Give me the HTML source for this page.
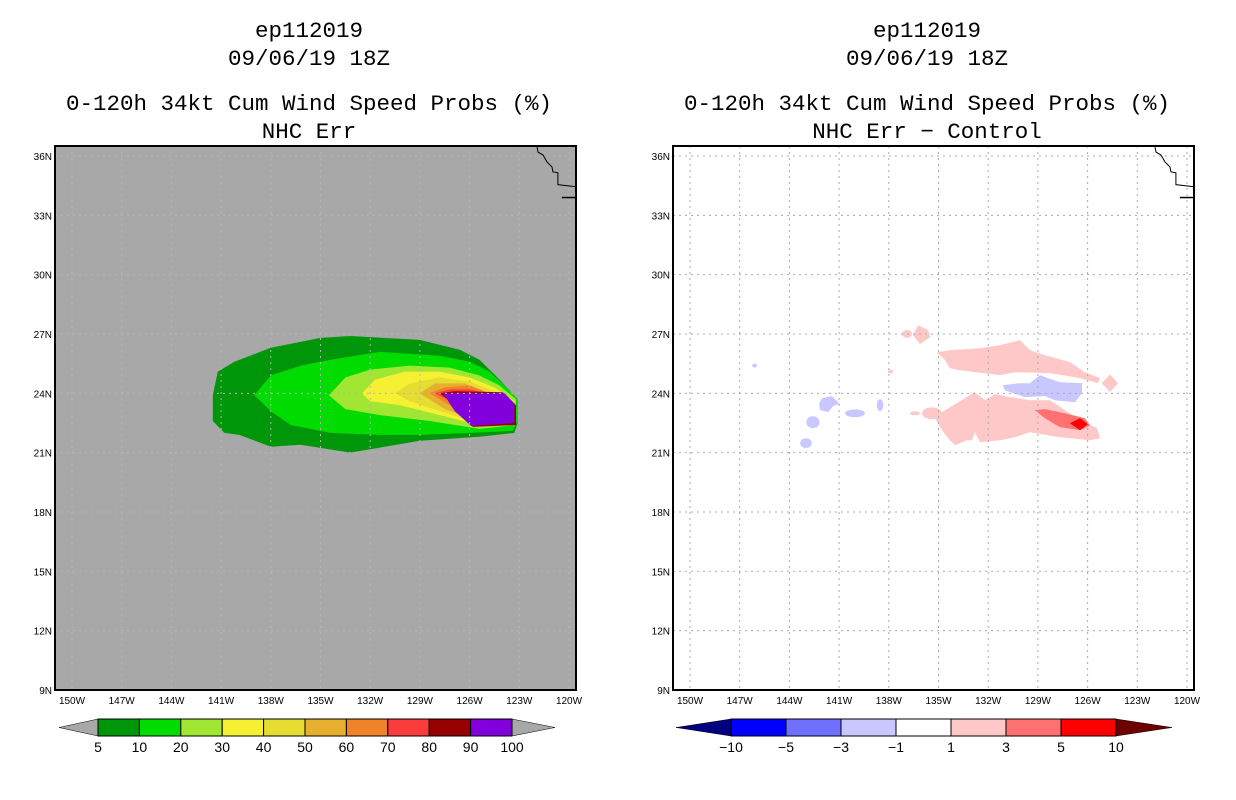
<!DOCTYPE html>
<html><head><meta charset="utf-8"><style>
body{margin:0;background:#fff;width:1236px;height:800px;overflow:hidden}
svg{display:block}
.t{font-family:"Liberation Mono",monospace;font-size:22.5px;fill:#000;text-anchor:middle}
.tk{font-family:"Liberation Sans",sans-serif;font-size:10px;fill:#000}
.cb{font-family:"Liberation Sans",sans-serif;font-size:14px;fill:#000;text-anchor:middle}
</style></head><body>
<svg id="s" width="1236" height="800">
<text class="t" x="309" y="37">ep112019</text>
<text class="t" x="309" y="65">09/06/19 18Z</text>
<text class="t" x="309" y="110">0-120h 34kt Cum Wind Speed Probs (%)</text>
<text class="t" x="309" y="138">NHC Err</text>
<text class="t" x="927" y="37">ep112019</text>
<text class="t" x="927" y="65">09/06/19 18Z</text>
<text class="t" x="927" y="110">0-120h 34kt Cum Wind Speed Probs (%)</text>
<text class="t" x="927" y="138">NHC Err − Control</text>
</svg>
<script>
const lonTicks=[-150,-147,-144,-141,-138,-135,-132,-129,-126,-123,-120];
const latTicks=[9,12,15,18,21,24,27,30,33,36];
const probLevels=[5,10,20,30,40,50,60,70,80,90,100];
const probColors=["#00960a","#00dc00","#a0e632","#f5f032","#e6dc32","#e6af2d","#f08228","#fa3c3c","#960000","#8200dc"];
const diffLevels=[-10,-5,-3,-1,1,3,5,10];
const diffColors=["#0000ff","#7070ff","#c8c8ff","#ffffff","#ffc8c8","#ff7070","#ff0000"];
// contour polygons (lon,lat), outer to inner
const c5=[[-141.5,23.9],[-141.2,25.1],[-140.2,25.6],[-138,26.3],[-135,26.8],[-133.2,26.9],[-129,26.7],[-126.6,26.2],[-125.4,25.7],[-124.2,24.7],[-123.1,23.7],[-123.1,22.5],[-123.3,22],[-125.4,21.8],[-129,21.6],[-133.2,21],[-136.2,21.4],[-138,21.3],[-139.9,21.9],[-140.8,22],[-141.5,22.6]];
const c10=[[-139,23.9],[-138,24.9],[-136.2,25.4],[-134.4,25.7],[-131.4,26.1],[-127.8,25.9],[-126,25.6],[-124.8,25.1],[-123.9,24.4],[-123.1,23.7],[-123.1,22.6],[-123.4,22.1],[-126,22],[-129,21.9],[-131.4,21.9],[-134.4,22],[-136.8,22.4],[-138,23.1]];
const c20=[[-134.5,23.9],[-133.5,24.8],[-132,25.2],[-129.6,25.4],[-127.2,25.3],[-125.4,24.9],[-124.2,24.4],[-123.2,23.7],[-123.2,22.4],[-125.4,22.2],[-128.4,22.6],[-131.4,22.9],[-133.5,23.2]];
const c30=[[-132.5,24],[-131.7,24.7],[-129.9,25.1],[-127.8,25.1],[-126,24.8],[-124.5,24.3],[-123.3,23.6],[-123.3,22.4],[-125.4,22.4],[-127.8,22.9],[-130.2,23.4],[-132,23.6]];
const c40=[[-130.5,24],[-129.6,24.5],[-127.8,24.8],[-126,24.6],[-124.5,24.1],[-123.3,23.5],[-123.3,22.4],[-125.5,22.5],[-127.8,23.1],[-129.6,23.6]];
const c50=[[-129,24],[-128.1,24.5],[-126.3,24.5],[-124.7,23.9],[-123.3,23.5],[-123.3,22.4],[-125.5,22.6],[-127.5,23.2]];
const c60=[[-128.4,24],[-127.5,24.3],[-126,24.4],[-124.5,23.9],[-123.3,23.4],[-123.3,22.4],[-125.5,22.6],[-127.2,23.4]];
const c70=[[-128.1,24],[-127.2,24.2],[-126,24.2],[-124.3,23.9],[-123.3,23.4],[-123.3,22.4],[-125.5,22.5],[-126.9,23.5]];
const c80=[[-127.8,24],[-126.9,24.1],[-124,24.05],[-123.2,23.4],[-123.2,22.4],[-125.8,22.3],[-126.7,23.3]];
const c90=[[-127.6,24],[-124,24.02],[-123.3,23.45],[-123.3,22.5],[-125.9,22.35],[-126.9,23.1]];
const c100=[[-127.1,24],[-123.9,24],[-123.3,23.5],[-123.3,22.6],[-125.8,22.55],[-126.7,23.2]];
const probPolys=[c5,c10,c20,c30,c40,c50,c60,c70,c80,c90,c100];
const probIdx=[0,1,2,3,4,5,6,7,8,9,9];
const pinkTop=[[-135.09,26.08],[-134.31,26.18],[-132.5,26.28],[-131.29,26.44],[-130.08,26.69],[-129.48,26.18],[-128.57,25.93],[-127.06,25.58],[-126.16,25.07],[-125.25,24.77],[-125.37,24.51],[-126.46,24.77],[-128.27,25.02],[-130.38,25.07],[-131.29,24.92],[-133.7,25.17],[-134.31,25.27],[-134.61,25.68]];
const pinkBlob=[[-136.54,26.94],[-136.24,27.45],[-135.63,27.2],[-135.51,26.84],[-136.12,26.49]];
const blueBand=[[-131.11,24.41],[-130.08,24.51],[-129.48,24.51],[-128.87,24.92],[-128.39,24.77],[-127.67,24.56],[-126.34,24.51],[-126.34,24.01],[-126.76,23.55],[-127.97,23.65],[-128.57,23.86],[-129.78,23.81],[-130.99,24.16]];
const pinkBottom=[[-134.91,22.99],[-133.4,23.75],[-132.8,24.06],[-132.19,23.65],[-131.59,23.96],[-130.68,23.81],[-129.48,23.65],[-128.27,23.65],[-127.37,23.15],[-126.46,22.64],[-125.43,22.24],[-125.25,21.73],[-125.85,21.63],[-127.67,21.78],[-129.48,22.03],[-130.38,21.78],[-131.29,21.63],[-132.5,21.53],[-132.8,22.03],[-132.98,21.63],[-133.28,21.63],[-134.0,21.38],[-134.31,21.63],[-134.79,22.14],[-135.21,22.74]];
const redMed=[[-129.18,23.15],[-128.57,23.2],[-127.37,22.99],[-126.16,22.74],[-125.85,22.39],[-126.46,22.14],[-127.67,22.29],[-128.57,22.74]];
const redHi=[[-127.06,22.49],[-126.46,22.74],[-125.98,22.44],[-126.46,22.14]];
const pinkDiamond=[[-125.15,24.51],[-124.65,24.95],[-124.15,24.51],[-124.65,24.07]];
const blueBlob=[[-142.03,23.75],[-141.43,23.86],[-140.95,23.45],[-141.31,23.4],[-141.67,23.05],[-142.15,23.15],[-142.21,23.5]];
const diffPolys=[pinkTop,pinkBlob,blueBand,pinkBottom,redMed,redHi,pinkDiamond,blueBlob];
const diffIdx=[4,4,2,4,5,6,4,2];
const speckLon=[-142.58,-143.0,-140.04,-138.53,-146.1,-136.42,-135.4,-136.9,-137.9];
const speckLat=[22.54,21.48,22.99,23.4,25.4,22.99,22.99,27.0,25.1];
const speckRx=[0.4,0.35,0.6,0.2,0.15,0.3,0.6,0.3,0.15];
const speckRy=[0.3,0.25,0.2,0.3,0.1,0.1,0.3,0.2,0.1];
const speckIdx=[2,2,2,2,2,4,4,4,4];
const coastLon=[-121.93,-121.87,-121.57,-121.33,-121.03,-120.97,-120.67,-120.67,-119.64];
const coastLat=[36.45,36.2,36.05,35.7,35.45,35.2,35.15,34.55,34.45];
const islandLon=[-120.43,-119.64];
const islandLat=[33.9,33.9];

const NS="http://www.w3.org/2000/svg";
const s=document.getElementById('s');
function mk(t,a,p){const e=document.createElementNS(NS,t);for(const k in a)e.setAttribute(k,a[k]);(p||s).appendChild(e);return e;}
function panel(ox,bg,name){
  const X=lon=>ox+72+(lon+150)*49.7/3;
  const Y=lat=>156+(36-lat)*59.33/3;
  const L=ox+55,R=ox+576,T=146,B=690;
  const g=mk('g',{});
  
  
  const cp=mk('clipPath',{id:'cp'+ox},g);mk('rect',{x:L,y:T,width:R-L,height:B-T},cp);
  const bgr=mk('rect',{x:L,y:T,width:R-L,height:B-T,fill:bg},g);
  
  
  const inner=mk('g',{'clip-path':'url(#cp'+ox+')'},g);
  return {X,Y,g,inner,L,R,T,B};
}
function pts(P,poly){return poly.map(p=>P.X(p[0]).toFixed(1)+','+P.Y(p[1]).toFixed(1)).join(' ');}
function finish(P,gridCol){
  for(const lo of lonTicks){const l=mk('line',{x1:P.X(lo),x2:P.X(lo),y1:P.T,y2:P.B,stroke:gridCol,'stroke-dasharray':'2,4','stroke-width':1},P.inner);
    
    }
  for(const la of latTicks){const l=mk('line',{x1:P.L,x2:P.R,y1:P.Y(la),y2:P.Y(la),stroke:gridCol,'stroke-dasharray':'2,4','stroke-width':1},P.inner);
    
    }
  const c=mk('polyline',{points:coastLon.map((v,i)=>P.X(v)+','+P.Y(coastLat[i])).join(' '),fill:'none',stroke:'#000','stroke-width':1},P.inner);
  
  
  const isl=mk('polyline',{points:islandLon.map((v,i)=>P.X(v)+','+P.Y(islandLat[i])).join(' '),fill:'none',stroke:'#000','stroke-width':1.5},P.inner);
  
  
  const f=mk('rect',{x:P.L,y:P.T,width:P.R-P.L,height:P.B-P.T,fill:'none',stroke:'#000','stroke-width':2},P.g);
  
  
  for(const lo of lonTicks){const t=mk('text',{x:P.X(lo),y:P.B+14,class:'tk','text-anchor':'middle'},P.g);t.textContent=Math.abs(lo)+'W';
    
    }
  for(const la of latTicks){const t=mk('text',{x:P.L-3,y:P.Y(la)+4,class:'tk','text-anchor':'end'},P.g);t.textContent=la+'N';
    
    }
}
const A=panel(0,'#a8a8a8','left-map');
probPolys.forEach((p,i)=>{const e=mk('polygon',{points:pts(A,p),fill:probColors[probIdx[i]]},A.inner);
  
  });
finish(A,'#b4b4b4');
const Bp=panel(618,'#ffffff','right-map');
diffPolys.forEach((p,i)=>{const e=mk('polygon',{points:pts(Bp,p),fill:diffColors[diffIdx[i]]},Bp.inner);
  
  });
speckLon.forEach((v,i)=>{const e=mk('ellipse',{cx:Bp.X(v),cy:Bp.Y(speckLat[i]),rx:speckRx[i]*49.7/3,ry:speckRy[i]*59.33/3,fill:diffColors[speckIdx[i]]},Bp.inner);
  
  });
finish(Bp,'#aaaaaa');
function colorbar(x0,x1,tipL,tipR,cols,labels,lc,rc,name){
  const g=mk('g',{});
  
  
  const y0=719,y1=736,ym=727.5,w=(x1-x0)/cols.length;
  mk('polygon',{points:`${tipL},${ym} ${x0},${y0} ${x0},${y1}`,fill:lc,stroke:'#000','stroke-width':0.5},g);
  mk('polygon',{points:`${tipR},${ym} ${x1},${y0} ${x1},${y1}`,fill:rc,stroke:'#000','stroke-width':0.5},g);
  cols.forEach((c,i)=>{const r=mk('rect',{x:x0+i*w,y:y0,width:w,height:y1-y0,fill:c,stroke:'#000','stroke-width':1},g);
    
    });
  labels.forEach((l,i)=>{const t=mk('text',{x:x0+i*w,y:752,class:'cb'},g);t.textContent=String(l).replace('-','−');
    
    });
}
colorbar(98,512,59,555,probColors,probLevels,'#a8a8a8','#a8a8a8','prob-colorbar');
colorbar(731,1116,676,1172,diffColors,diffLevels,'#000080','#6e0000','diff-colorbar');
</script>
</body></html>
